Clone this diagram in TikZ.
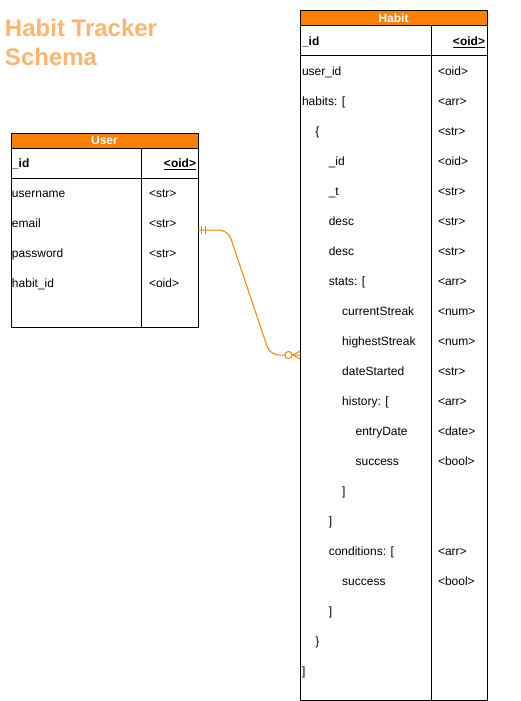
\documentclass[tikz,border=0pt]{standalone}
\usepackage{fontspec}
\setmainfont{Liberation Sans}
\usepackage{xcolor}
\usepackage{tikz}
\usetikzlibrary{calc,positioning}
\definecolor{hdrorange}{HTML}{FF8000}
\definecolor{titleorange}{HTML}{FFB570}
\tikzset{
  hdr/.style={draw, fill=hdrorange, text=white, line width=1pt, inner sep=0pt, minimum width=187pt, minimum height=15pt, font=\bfseries\fontsize{12}{14}\selectfont},
  cell/.style={draw, line width=1pt, inner sep=0pt, anchor=north west},
  fld/.style={anchor=base west, inner sep=0pt, font=\fontsize{12}{14}\selectfont},
  key/.style={inner sep=0pt, font=\bfseries\fontsize{12}{14}\selectfont},
  title/.style={anchor=north west, align=left, inner sep=0pt, text=titleorange, font=\bfseries\fontsize{24}{28.5}\selectfont},
  link/.style={draw=hdrorange, line width=1pt}
}
\begin{document}
\begin{tikzpicture}[x=1pt,y=-1pt,outer sep=0pt]
    \useasboundingbox (0,0) rectangle (521,701);
    \node (Title) [title] at (5,19.5) {Habit Tracker\\Schema};
    % User table
    \node (UserHead) [hdr] at (104.5,140.5) {User};
    \node (UserKeyName) [cell,minimum width=130pt,minimum height=30pt] at (UserHead.south west) {};
    \node (UserKeyType) [cell,minimum width=57pt,minimum height=30pt] at (UserKeyName.north east) {};
    \node (UserNames) [cell,minimum width=130pt,minimum height=149pt] at (UserKeyName.south west) {};
    \node (UserTypes) [cell,minimum width=57pt,minimum height=149pt] at (UserNames.north east) {};
    \node (UserId) [key,anchor=base west] at (12,167.5) {\_id};
    \node (UserIdType) [key,anchor=base east] at (196,167.5) {\underline{<oid>}};
    \node (UserName) [fld] at (12,197.5) {username};
    \node (UserNameType) [fld] at (149,197.5) {<str>};
    \node (UserEmail) [fld] at (12,227.5) {email};
    \node (UserEmailType) [fld] at (149,227.5) {<str>};
    \node (UserPass) [fld] at (12,257.5) {password};
    \node (UserPassType) [fld] at (149,257.5) {<str>};
    \node (UserHabit) [fld] at (12,287.5) {habit\_id};
    \node (UserHabitType) [fld] at (149,287.5) {<oid>};
    % Habit table
    \node (HabitHead) [hdr] at (393.5,18.5) {Habit};
    \node (HabitKeyName) [cell,minimum width=131pt,minimum height=30pt] at (HabitHead.south west) {};
    \node (HabitKeyType) [cell,minimum width=56pt,minimum height=30pt] at (HabitKeyName.north east) {};
    \node (HabitNames) [cell,minimum width=131pt,minimum height=644pt] at (HabitKeyName.south west) {};
    \node (HabitTypes) [cell,minimum width=56pt,minimum height=644pt] at (HabitNames.north east) {};
    \node (HabitId) [key,anchor=base west] at (302,45.5) {\_id};
    \node (HabitIdType) [key,anchor=base east] at (485,45.5) {\underline{<oid>}};
    \foreach \txt/\lvl/\typ [count=\i] in {user\_id/0/<oid>, habits: [/0/<arr>, \{/1/<str>,
        \_id/2/<oid>, \_t/2/<str>, desc/2/<str>, desc/2/<str>, stats: [/2/<arr>,
        currentStreak/3/<num>, highestStreak/3/<num>, dateStarted/3/<str>, history: [/3/<arr>,
        entryDate/4/<date>, success/4/<bool>, ]/3/{}, ]/2/{}, conditions: [/2/<arr>,
        success/3/<bool>, ]/2/{}, \}/1/{}, ]/0/{}}
    {
        \node (hf\i) [fld] at (302+13.4*\lvl,75.5+30*\i-30) {\txt};
        \node (ht\i) [fld] at (438,75.5+30*\i-30) {\typ};
    }
    % relation
    \coordinate (UserPort) at ($(UserTypes.north east)+(0,52)$);
    \coordinate (HabitPort) at ($(HabitNames.north west)+(0,299)$);
    \draw[link,rounded corners=9pt] (UserPort) -- ($(UserPort)+(30,0)$) -- ($(HabitPort)+(-30,0)$) -- (HabitPort);
    \draw[link] ($(UserPort)+(3,-4)$) -- ++(0,8);
    \draw[link] ($(UserPort)+(7,-4)$) -- ++(0,8);
    \draw[link] ($(HabitPort)+(0,-4)$) -- ($(HabitPort)+(-7,0)$) -- ($(HabitPort)+(0,4)$);
    \draw[link,fill=white] ($(HabitPort)+(-11.5,0)$) circle (3.5pt);
\end{tikzpicture}
\end{document}
